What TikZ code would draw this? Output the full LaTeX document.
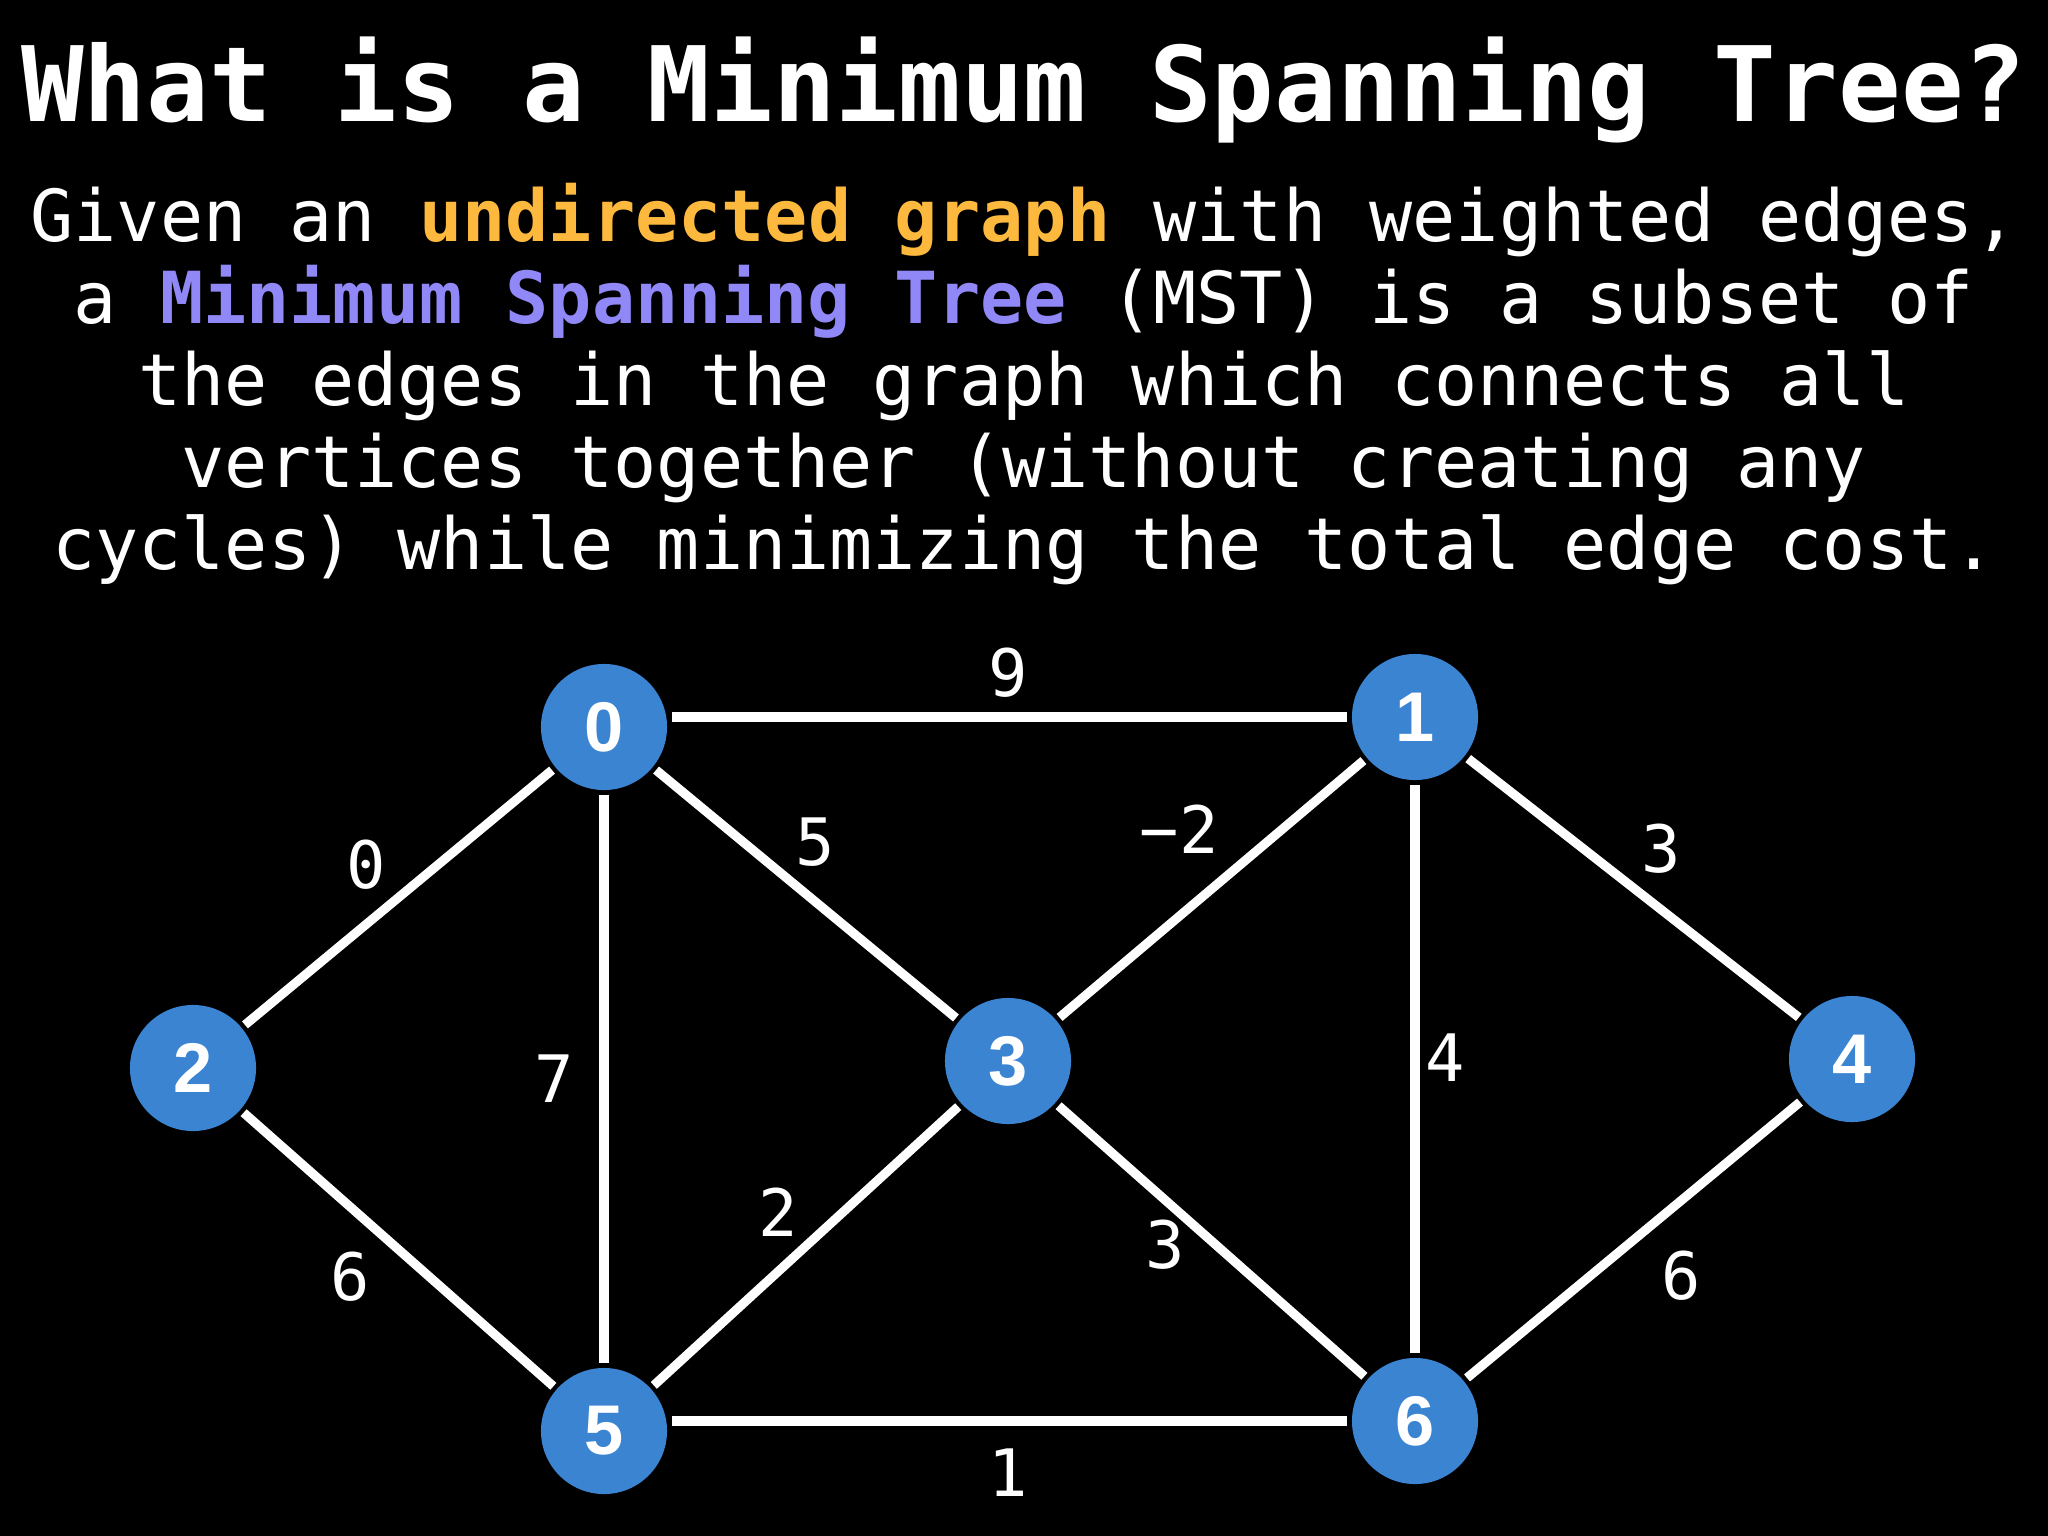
\documentclass[tikz,border=0pt]{standalone}
\usepackage{fontspec}
\setmonofont{DejaVu Sans Mono}
\newfontfamily\vxfont{Liberation Sans}
\definecolor{vxblue}{RGB}{59,132,210}
\definecolor{hlorange}{RGB}{253,185,62}
\definecolor{hlpurple}{RGB}{145,136,248}
\begin{document}
\begin{tikzpicture}[x=0.01cm,y=-0.01cm,
    vx/.style={circle,fill=vxblue,minimum size=1.26cm,inner sep=0pt,outer sep=0.045cm,
      text=white,font=\vxfont\bfseries\fontsize{20}{20}\selectfont},
    wt/.style={text=white,inner sep=0pt,font=\ttfamily\fontsize{18.6}{18.6}\selectfont},
    ln/.style={text=white,inner sep=0pt,anchor=base,font=\ttfamily\fontsize{20.4}{23}\selectfont},
    edg/.style={draw=white,line width=2.6pt}]
  \fill[black] (0,0) rectangle (2048,1536);
  \useasboundingbox (0,0) rectangle (2048,1536);
  \node[ln,font=\ttfamily\bfseries\fontsize{29.6}{30}\selectfont] (title) at (1024,121.5)
    {What is a Minimum Spanning Tree?};
  \node[ln] (line1) at (1024,241.6)
    {Given an \textcolor{hlorange}{\bfseries undirected graph} with weighted edges,};
  \node[ln] (line2) at (1024,323.6)
    {a \textcolor{hlpurple}{\bfseries Minimum Spanning Tree} (MST) is a subset of};
  \node[ln] (line3) at (1024,405.6) {the edges in the graph which connects all};
  \node[ln] (line4) at (1024,487.6) {vertices together (without creating any};
  \node[ln] (line5) at (1024,569.6) {cycles) while minimizing the total edge cost.};
  % vertices
  \node[vx] (v0) at (604,727) {0};
  \node[vx] (v1) at (1415,717) {1};
  \node[vx] (v2) at (193,1068) {2};
  \node[vx] (v3) at (1008,1061) {3};
  \node[vx] (v4) at (1852,1059) {4};
  \node[vx] (v5) at (604,1431) {5};
  \node[vx] (v6) at (1415,1421) {6};
  % edges (the two long ones stay level)
  \draw[edg] (v1.west) -- (v1.west -| v0.east);
  \draw[edg] (v6.west) -- (v6.west -| v5.east);
  \foreach \a/\b in {v0/v2,v0/v3,v0/v5,v1/v3,v1/v4,v1/v6,v2/v5,v3/v5,v3/v6,v4/v6}
    \draw[edg] (\a) -- (\b);
  % weights
  \node[wt] (w01) at (1008,673) {9};
  \node[wt] (w02) at (366,865) {0};
  \node[wt] (w03) at (815,842) {5};
  \node[wt] (w13) at (1179,829) {−2};
  \node[wt] (w14) at (1661,849) {3};
  \node[wt] (w05) at (554,1079) {7};
  \node[wt] (w16) at (1445,1058) {4};
  \node[wt] (w35) at (778,1212) {2};
  \node[wt] (w36) at (1165,1245) {3};
  \node[wt] (w25) at (350,1277) {6};
  \node[wt] (w46) at (1681,1276) {6};
  \node[wt] (w56) at (1008,1473) {1};
\end{tikzpicture}
\end{document}
